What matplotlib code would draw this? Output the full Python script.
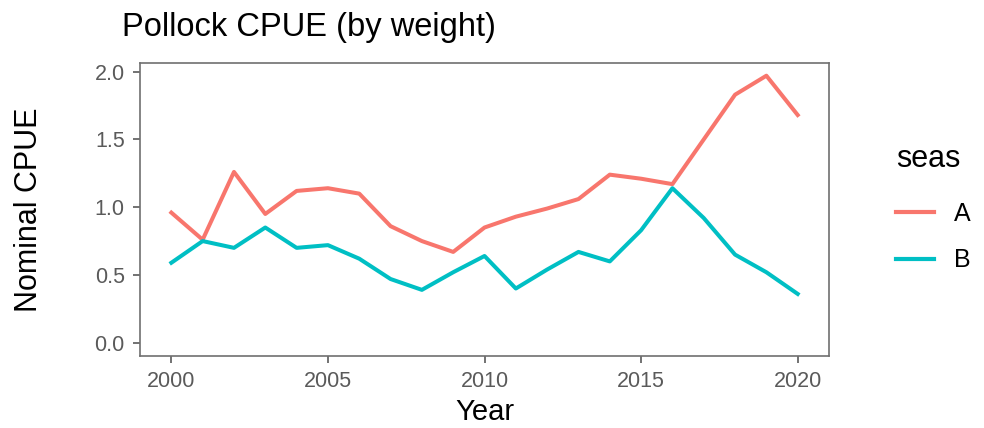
import matplotlib
matplotlib.use("Agg")
import matplotlib.pyplot as plt

# -----------------------------------------
# data
# -----------------------------------------
years = list(range(2000, 2021))
cpue_a = [0.96, 0.76, 1.26, 0.95, 1.12, 1.14, 1.10, 0.86, 0.75, 0.67,
          0.85, 0.93, 0.99, 1.06, 1.24, 1.21, 1.17, 1.50, 1.83, 1.97, 1.68]
cpue_b = [0.59, 0.75, 0.70, 0.85, 0.70, 0.72, 0.62, 0.47, 0.39, 0.52,
          0.64, 0.40, 0.54, 0.67, 0.60, 0.83, 1.14, 0.92, 0.65, 0.52, 0.36]
seas_labels = ["A", "B"]
seas_colors = ["#F8766D", "#00BFC4"]

x_ticks = [2000, 2005, 2010, 2015, 2020]
y_ticks = [0.0, 0.5, 1.0, 1.5, 2.0]

plt.rcParams["font.family"] = ["Liberation Sans", "DejaVu Sans"]

fig = plt.figure(figsize=(9.84, 4.28), dpi=100)
ax = fig.add_axes([0.1423, 0.1682, 0.7002, 0.6853])

for series, lab, col in zip([cpue_a, cpue_b], seas_labels, seas_colors):
    ax.plot(years, series, color=col, lw=2.9, label=lab, solid_joinstyle="round")

ax.set_xlim(1999, 2021)
ax.set_ylim(-0.098, 2.066)
ax.set_xticks(x_ticks)
ax.set_yticks(y_ticks)
ax.set_yticklabels([f"{v:.1f}" for v in y_ticks])

ax.tick_params(colors="#5a5a5a", labelsize=15.5, length=5, width=1.2)
ax.tick_params(axis="y", pad=6)
ax.tick_params(axis="x", pad=6)
for s in ax.spines.values():
    s.set_color("#707070")
    s.set_linewidth(1.2)

ax.set_xlabel("Year", fontsize=21, labelpad=4)
ax.set_ylabel("Nominal CPUE", fontsize=22, labelpad=36)

fig.text(122 / 984, 1 - 36 / 428, "Pollock CPUE (by weight)", fontsize=23.5,
         ha="left", va="baseline")

# legend on the right, ggplot style
leg = fig.legend(loc="upper left", bbox_to_anchor=(896 / 984, 1 - 144 / 428),
                 title="seas", frameon=False, fontsize=18, title_fontsize=22,
                 handlelength=1.5, handletextpad=0.8, labelspacing=0.9,
                 borderpad=0, borderaxespad=0)
leg._legend_box.align = "left"
leg._legend_box.sep = 20
for h in leg.legend_handles:
    h.set_linewidth(3.0)

fig.savefig("out.png", dpi=100)
